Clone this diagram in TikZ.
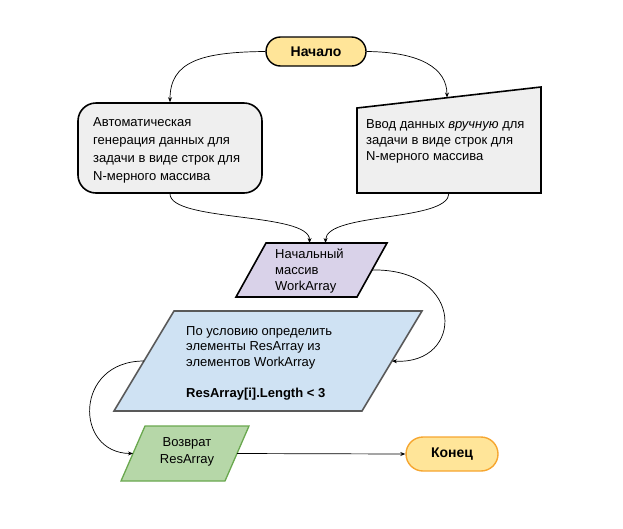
\documentclass[tikz,border=0pt]{standalone}
\usepackage{fontspec}
\setmainfont{Liberation Sans}
\usetikzlibrary{shapes.misc,arrows.meta,calc}
\definecolor{yel}{HTML}{FFE599}
\definecolor{orng}{HTML}{F6A630}
\definecolor{lgray}{HTML}{EFEFEF}
\definecolor{lav}{HTML}{D9D2E9}
\definecolor{lblue}{HTML}{CFE2F3}
\definecolor{dgray}{HTML}{595959}
\definecolor{lgreen}{HTML}{B6D7A8}
\definecolor{dgreen}{HTML}{6AA84F}
\tikzset{
  pill/.style={rounded rectangle, draw, line width=1.4pt, fill=yel, inner sep=0pt,
    font=\fontsize{14}{16}\selectfont\bfseries},
  frame/.style={inner sep=0pt, outer sep=0pt},
  shp/.style={line width=1.6pt, line join=miter},
  txt/.style={anchor=north west, inner sep=0pt, align=left, font=\fontsize{13}{16}\selectfont},
  conn/.style={line width=0.7pt, -{Stealth[length=5pt,width=4pt]}},
}
\begin{document}
\begin{tikzpicture}[x=1pt,y=-1pt]
\useasboundingbox (0,0) rectangle (623,528);
% start
\node[pill, minimum width=100pt, minimum height=29pt] (start) at (316,51.5) {Начало};
% left box
\node[draw, line width=1.6pt, fill=lgray, rounded corners=18pt, minimum width=184pt, minimum height=90pt] (auto) at (170,148) {};
\node[txt, font=\fontsize{13}{18.2}\selectfont] (autot) at (93,117) {Автоматическая\\генерация данных для\\задачи в виде строк для\\N-мерного массива};
% right box (manual input)
\node[frame, minimum width=184pt, minimum height=106pt] (man) at (449,140) {};
\draw[shp, fill=lgray] (man.south west) -- ($(man.west)+(0,-32)$) -- (man.north east) -- (man.south east) -- cycle;
\coordinate (mantop) at (447,97.5);
\node[txt] (mant) at (366,119) {Ввод данных \textit{вручную} для\\задачи в виде строк для\\N-мерного массива};
% WorkArray
\node[frame, minimum width=151pt, minimum height=54pt] (wa) at (311.5,270) {};
\draw[shp, fill=lav] (wa.south west) -- ($(wa.north west)+(30,0)$) -- (wa.north east) -- ($(wa.south east)+(-30,0)$) -- cycle;
\node[txt] (wat) at (275,249) {Начальный\\массив\\WorkArray};
% big
\node[frame, minimum width=308pt, minimum height=100pt] (big) at (268,361) {};
\draw[shp, draw=dgray, fill=lblue] (big.south west) -- ($(big.north west)+(60,0)$) -- (big.north east) -- ($(big.south east)+(-60,0)$) -- cycle;
\node[txt, font=\fontsize{13}{15.5}\selectfont] (bigt) at (186,326) {По условию определить\\элементы ResArray из\\элементов WorkArray\\[15.5pt]\textbf{ResArray[i].Length < 3}};
% return
\node[frame, minimum width=128pt, minimum height=55pt] (ret) at (185,453.5) {};
\draw[shp, line width=1.3pt, draw=dgreen, fill=lgreen] (ret.south west) -- ($(ret.north west)+(24,0)$) -- (ret.north east) -- ($(ret.south east)+(-24,0)$) -- cycle;
\node[inner sep=0pt, align=center, anchor=north, font=\fontsize{13}{17}\selectfont] (rett) at (187,437) {Возврат\\ResArray};
% end
\node[pill, draw=orng, fill=yel, minimum width=92pt, minimum height=34pt] (end) at (452,454) {Конец};
% anchors
\coordinate (war) at ($(wa.east)+(-15,0)$);
\coordinate (bigr) at ($(big.east)+(-30,0)$);
\coordinate (bigl) at ($(big.west)+(30,0)$);
\coordinate (retl) at ($(ret.west)+(12,0)$);
\coordinate (retr) at ($(ret.east)+(-12,0)$);
\coordinate (wat1) at ($(wa.north)+(-2,0)$);
\coordinate (wat2) at ($(wa.north)+(14,0)$);
% connectors
\draw[conn] (start.west) .. controls (200,52) and (170,62) .. (auto.north);
\draw[conn] (start.east) .. controls (420,52) and (447,68) .. (mantop);
\draw[conn] (auto.south) .. controls (170,222) and (310,212) .. (wat1);
\draw[conn] (man.south) .. controls (449,222) and (326,212) .. (wat2);
\draw[conn] (war) .. controls (465,268) and (465,365) .. (bigr);
\draw[conn] (bigl) .. controls (74,361) and (74,453) .. (retl);
\draw[conn] (retr) -- (end.west);
\end{tikzpicture}
\end{document}
